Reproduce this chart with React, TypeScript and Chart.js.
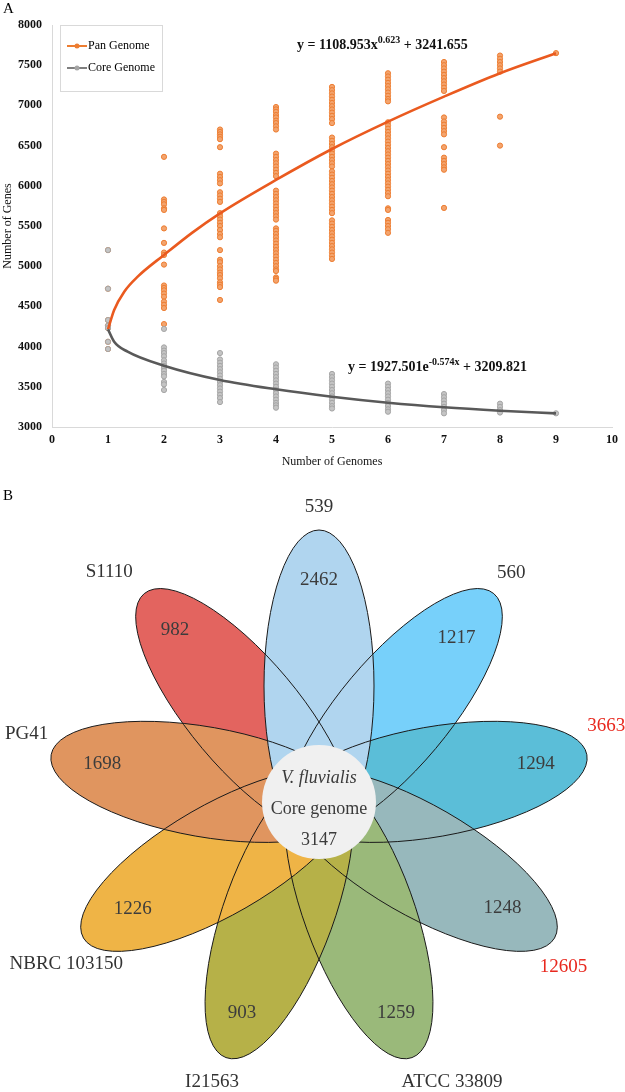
import React, { useEffect, useRef } from 'react';
import { Chart, registerables } from 'chart.js';

Chart.register(...registerables);

const SERIF = "'Liberation Serif', 'Times New Roman', serif";

// ---------- Panel A data ----------
const GENOME_COUNTS = [1, 2, 3, 4, 5, 6, 7, 8, 9];
const X_TICKS = [0, 1, 2, 3, 4, 5, 6, 7, 8, 9, 10];
const Y_TICKS = [3000, 3500, 4000, 4500, 5000, 5500, 6000, 6500, 7000, 7500, 8000];

const PAN_GENES: number[][] = [
  [5200, 4720, 4330, 4260, 4230, 4060, 3970],
  [6360, 5830, 5800, 5770, 5720, 5700, 5470, 5290, 5170, 5140, 5020, 4760, 4730, 4700, 4660, 4620, 4560, 4520, 4480, 4280],
  [6700, 6670, 6640, 6610, 6580, 6480, 6150, 6110, 6070, 6030, 5920, 5880, 5840, 5800, 5660, 5620, 5580, 5540, 5500, 5450, 5400, 5360, 5200, 5080, 5050, 5000, 4960, 4920, 4890, 4850, 4800, 4770, 4740, 4580],
  [6980, 6950, 6920, 6880, 6850, 6810, 6780, 6740, 6700, 6400, 6360, 6320, 6280, 6240, 6200, 6160, 6120, 5940, 5900, 5860, 5820, 5780, 5740, 5700, 5660, 5620, 5580, 5470, 5440, 5400, 5360, 5320, 5280, 5240, 5200, 5160, 5120, 5080, 5040, 5000, 4960, 4940, 4860, 4840, 4820],
  [7230, 7190, 7150, 7110, 7070, 7030, 6990, 6950, 6910, 6870, 6830, 6780, 6600, 6560, 6520, 6480, 6440, 6400, 6360, 6320, 6280, 6240, 6180, 6140, 6100, 6060, 6020, 5980, 5940, 5900, 5860, 5820, 5780, 5740, 5700, 5660, 5570, 5530, 5490, 5450, 5410, 5370, 5330, 5290, 5250, 5210, 5170, 5130, 5090],
  [7400, 7360, 7320, 7280, 7240, 7200, 7160, 7120, 7080, 7050, 6790, 6750, 6710, 6670, 6630, 6590, 6550, 6510, 6470, 6430, 6390, 6350, 6310, 6270, 6230, 6190, 6150, 6110, 6070, 6030, 5990, 5950, 5910, 5870, 5720, 5700, 5575, 5540, 5500, 5460, 5415],
  [7540, 7500, 7460, 7420, 7380, 7340, 7300, 7260, 7220, 7180, 6850, 6800, 6760, 6720, 6680, 6640, 6480, 6350, 6310, 6270, 6230, 6200, 5725],
  [7620, 7580, 7540, 7500, 7460, 7420, 6860, 6500],
  [7650],
];

const CORE_GENES: number[][] = [
  [5200, 4720, 4330, 4260, 4230, 4060, 3970],
  [4220, 3990, 3950, 3920, 3880, 3830, 3790, 3760, 3730, 3700, 3660, 3630, 3560, 3530, 3460],
  [3920, 3840, 3800, 3760, 3720, 3680, 3640, 3600, 3560, 3520, 3480, 3440, 3400, 3360, 3310],
  [3780, 3740, 3700, 3660, 3620, 3580, 3540, 3500, 3460, 3420, 3380, 3340, 3300, 3270, 3240],
  [3660, 3620, 3580, 3540, 3500, 3460, 3420, 3380, 3340, 3300, 3260, 3230],
  [3540, 3500, 3460, 3420, 3380, 3340, 3300, 3260, 3220, 3190],
  [3410, 3370, 3330, 3290, 3250, 3210, 3170],
  [3290, 3250, 3210, 3180],
  [3170],
];

const PAN_FIT_X = [1, 1.11, 1.29, 1.53, 2, 2.5, 3, 4, 5, 6, 7, 8, 9];
const PAN_FIT_Y = [4215, 4455, 4683, 4870, 5140, 5415, 5658, 6073, 6458, 6798, 7109, 7400, 7649];
const CORE_FIT_X = [1, 1.11, 1.35, 2, 3, 4, 5, 6, 7, 8, 9];
const CORE_FIT_Y = [4215, 4061, 3937, 3763, 3585, 3469, 3377, 3302, 3245, 3203, 3170];

const SERIES_NAMES = ['Pan Genome', 'Core Genome'];
const PAN_EQ = ['y = 1108.953x', '0.623', ' + 3241.655'];
const CORE_EQ = ['y = 1927.501e', '-0.574x', ' + 3209.821'];

// ---------- Panel B data ----------
const PETAL_NAMES = ['539', '560', '3663', '12605', 'ATCC 33809', 'I21563', 'NBRC 103150', 'PG41', 'S1110'];
const PETAL_UNIQUE = [2462, 1217, 1294, 1248, 1259, 903, 1226, 1698, 982];
const PETAL_ANGLES = [90, 50, 10, -30, -70, -110, -150, 170, 130];
const PETAL_COLORS = ['#B0D5EF', '#77D0FA', '#5BBED8', '#97B8BC', '#9AB97A', '#B6B148', '#EFB446', '#E0955F', '#E3645F'];
const LABEL_COLORS = ['#333333', '#333333', '#E8281E', '#E8281E', '#333333', '#333333', '#333333', '#333333', '#333333'];
const CORE_TITLE = 'V. fluvialis';
const CORE_SUB = 'Core genome';
const CORE_COUNT = 3147;

// layout of panel B (pixel-like units of the hidden scales)
const FILL_ORDER = [1, 2, 3, 4, 5, 6, 8, 7, 0];
const FLOWER_CENTER = [319, 802];
const PETAL_OFFSET = 116;
const PETAL_A = 156;
const PETAL_B = 55;
const CORE_R = 57;
const NUM_RADIUS = [222, 214, 220, 212, 225, 225, 215, 220, 224];
const LABEL_POS = [[90, 295], [50, 299], [14.8, 297], [-34, 295], [-64.6, 310], [-110.9, 300], [-147.4, 300], [167, 300], [132.4, 311]];

const PAN_DOT = '#ED7D31';
const PAN_DOT_FILL = '#F3A46E';
const PAN_LINE = '#EA5A1F';
const CORE_DOT = '#A5A5A5';
const CORE_DOT_FILL = '#C4C4C4';
const CORE_LINE = '#595959';

function drawEquation(ctx: CanvasRenderingContext2D, x: number, y: number, parts: string[]) {
  ctx.textAlign = 'left';
  ctx.textBaseline = 'middle';
  ctx.fillStyle = '#111';
  ctx.font = `bold 14px ${SERIF}`;
  ctx.fillText(parts[0], x, y);
  let w = ctx.measureText(parts[0]).width;
  ctx.font = `bold 10px ${SERIF}`;
  ctx.fillText(parts[1], x + w, y - 5);
  w += ctx.measureText(parts[1]).width;
  ctx.font = `bold 14px ${SERIF}`;
  ctx.fillText(parts[2], x + w, y);
}

const overlayA = {
  id: 'overlayA',
  afterDraw(chart: any) {
    const { ctx } = chart;
    const xs = chart.scales.x;
    const ys = chart.scales.y;
    ctx.save();
    ctx.fillStyle = '#000';
    ctx.font = `15px ${SERIF}`;
    ctx.textAlign = 'left';
    ctx.textBaseline = 'middle';
    ctx.fillText('A', 3, 9);

    // legend box
    ctx.fillStyle = '#fff';
    ctx.strokeStyle = '#D9D9D9';
    ctx.lineWidth = 1;
    ctx.fillRect(60.5, 25.5, 102, 66);
    ctx.strokeRect(60.5, 25.5, 102, 66);
    const lc = [[PAN_LINE, PAN_DOT], [CORE_LINE, CORE_DOT]];
    SERIES_NAMES.forEach((name, i) => {
      const yy = 46 + i * 22;
      ctx.strokeStyle = i === 0 ? PAN_DOT : '#7F7F7F';
      ctx.lineWidth = 2;
      ctx.beginPath();
      ctx.moveTo(67, yy);
      ctx.lineTo(87, yy);
      ctx.stroke();
      ctx.fillStyle = lc[i][1];
      ctx.beginPath();
      ctx.arc(77, yy, 2.5, 0, Math.PI * 2);
      ctx.fill();
      ctx.fillStyle = '#000';
      ctx.font = `12px ${SERIF}`;
      ctx.fillText(name, 88, yy);
    });

    drawEquation(ctx, xs.getPixelForValue(4.375), ys.getPixelForValue(7752), PAN_EQ);
    drawEquation(ctx, xs.getPixelForValue(5.286), ys.getPixelForValue(3746), CORE_EQ);
    ctx.restore();
  },
};

function PanelA() {
  const ref = useRef<HTMLCanvasElement>(null);
  useEffect(() => {
    const canvas = ref.current!;
    const panPts = PAN_GENES.flatMap((ys, i) => ys.map((y) => ({ x: GENOME_COUNTS[i], y })));
    const corePts = CORE_GENES.flatMap((ys, i) => ys.map((y) => ({ x: GENOME_COUNTS[i], y })));
    const chart = new Chart(canvas, {
      type: 'scatter',
      data: {
        datasets: [
          {
            label: 'Pan fit',
            data: PAN_FIT_X.map((x, i) => ({ x, y: PAN_FIT_Y[i] })),
            showLine: true,
            borderColor: PAN_LINE,
            borderWidth: 2.6,
            pointRadius: 0,
            cubicInterpolationMode: 'monotone',
            order: 1,
          } as any,
          {
            label: 'Core fit',
            data: CORE_FIT_X.map((x, i) => ({ x, y: CORE_FIT_Y[i] })),
            showLine: true,
            borderColor: CORE_LINE,
            borderWidth: 2.6,
            pointRadius: 0,
            cubicInterpolationMode: 'monotone',
            order: 0,
          } as any,
          {
            label: SERIES_NAMES[1],
            data: corePts,
            pointRadius: 2.6,
            borderWidth: 1,
            borderColor: CORE_DOT,
            backgroundColor: CORE_DOT_FILL,
            order: 2,
          },
          {
            label: SERIES_NAMES[0],
            data: panPts,
            pointRadius: 2.6,
            borderWidth: 1,
            borderColor: PAN_DOT,
            backgroundColor: PAN_DOT_FILL,
            order: 3,
          },
        ],
      },
      options: {
        responsive: false,
        animation: false,
        devicePixelRatio: 1,
        layout: { padding: { top: 25, right: 13, left: 0, bottom: 0 } },
        plugins: { legend: { display: false }, tooltip: { enabled: false } },
        scales: {
          x: {
            type: 'linear',
            min: 0,
            max: 10,
            afterBuildTicks: (s: any) => {
              s.ticks = X_TICKS.map((v) => ({ value: v }));
            },
            afterFit: (s: any) => {
              s.height = 43;
            },
            grid: { display: false, drawTicks: false },
            border: { display: true, color: '#D9D9D9', width: 1 },
            ticks: {
              padding: 6,
              color: '#111',
              font: { family: SERIF, size: 12, weight: 'bold' },
              maxRotation: 0,
              callback: (v: any) => String(v),
            },
            title: {
              display: true,
              text: 'Number of Genomes',
              color: '#111',
              font: { family: SERIF, size: 12 },
              padding: { top: 0, bottom: 1 },
            },
          },
          y: {
            type: 'linear',
            min: 3000,
            max: 8000,
            afterBuildTicks: (s: any) => {
              s.ticks = Y_TICKS.map((v) => ({ value: v }));
            },
            afterFit: (s: any) => {
              s.width = 52;
            },
            grid: { display: false, drawTicks: false },
            border: { display: true, color: '#D9D9D9', width: 1 },
            ticks: {
              padding: 10,
              color: '#111',
              font: { family: SERIF, size: 12, weight: 'bold' },
              callback: (v: any) => String(v),
            },
            title: {
              display: true,
              text: 'Number of Genes',
              color: '#111',
              font: { family: SERIF, size: 12 },
              padding: { top: 1, bottom: 0 },
            },
          },
        },
      } as any,
      plugins: [overlayA],
    });
    return () => chart.destroy();
  }, []);
  return <canvas ref={ref} width={625} height={470} style={{ display: 'block', width: 625, height: 470 }} />;
}

const flowerPlugin = {
  id: 'flower',
  afterDraw(chart: any) {
    const { ctx } = chart;
    const xs = chart.scales.x;
    const ys = chart.scales.y;
    const px = (v: number) => xs.getPixelForValue(v);
    const py = (v: number) => ys.getPixelForValue(v);
    const ux = px(1) - px(0);
    const [fcx, fcy] = FLOWER_CENTER;
    const rad = (d: number) => (d * Math.PI) / 180;

    ctx.save();
    ctx.fillStyle = '#000';
    ctx.font = `15px ${SERIF}`;
    ctx.textAlign = 'left';
    ctx.textBaseline = 'middle';
    ctx.fillText('B', px(3), py(496));

    const petalPath = (i: number) => {
      const t = rad(PETAL_ANGLES[i]);
      const cx = fcx + PETAL_OFFSET * Math.cos(t);
      const cy = fcy - PETAL_OFFSET * Math.sin(t);
      ctx.beginPath();
      ctx.ellipse(px(cx), py(cy), PETAL_A * ux, PETAL_B * ux, -t, 0, Math.PI * 2);
    };

    FILL_ORDER.forEach((i) => {
      petalPath(i);
      ctx.fillStyle = PETAL_COLORS[i];
      ctx.fill();
    });
    ctx.strokeStyle = '#1a1a1a';
    ctx.lineWidth = 1;
    FILL_ORDER.forEach((i) => {
      petalPath(i);
      ctx.stroke();
    });

    // core
    ctx.beginPath();
    ctx.arc(px(fcx), py(fcy), CORE_R * ux, 0, Math.PI * 2);
    ctx.fillStyle = '#F0F0F0';
    ctx.fill();

    ctx.textAlign = 'center';
    ctx.textBaseline = 'middle';
    ctx.fillStyle = '#3A3A3A';
    ctx.font = `italic 18px ${SERIF}`;
    ctx.fillText(CORE_TITLE, px(fcx), py(fcy - 24));
    ctx.font = `18px ${SERIF}`;
    ctx.fillText(CORE_SUB, px(fcx), py(fcy + 7));
    ctx.fillText(String(CORE_COUNT), px(fcx), py(fcy + 38));

    // unique counts
    ctx.font = `19px ${SERIF}`;
    PETAL_UNIQUE.forEach((n, i) => {
      const t = rad(PETAL_ANGLES[i]);
      const r = NUM_RADIUS[i];
      ctx.fillStyle = '#3C3C3C';
      ctx.fillText(String(n), px(fcx + r * Math.cos(t)), py(fcy - r * Math.sin(t)));
    });

    // names
    PETAL_NAMES.forEach((name, i) => {
      const [a, r] = LABEL_POS[i];
      const t = rad(a);
      ctx.fillStyle = LABEL_COLORS[i];
      ctx.fillText(name, px(fcx + r * Math.cos(t)), py(fcy - r * Math.sin(t)));
    });
    ctx.restore();
  },
};

function PanelB() {
  const ref = useRef<HTMLCanvasElement>(null);
  useEffect(() => {
    const canvas = ref.current!;
    const chart = new Chart(canvas, {
      type: 'scatter',
      data: { datasets: [{ label: 'petals', data: [], pointRadius: 0 }] },
      options: {
        responsive: false,
        animation: false,
        devicePixelRatio: 1,
        layout: { padding: 0 },
        plugins: { legend: { display: false }, tooltip: { enabled: false } },
        scales: {
          x: { type: 'linear', min: 0, max: 625, display: false },
          y: { type: 'linear', min: 470, max: 1092, reverse: true, display: false },
        },
      } as any,
      plugins: [flowerPlugin],
    });
    return () => chart.destroy();
  }, []);
  return <canvas ref={ref} width={625} height={622} style={{ display: 'block', width: 625, height: 622 }} />;
}

export default function App() {
  return (
    <div style={{ position: 'absolute', left: 0, top: 0, width: 625, height: 1092, background: '#fff' }}>
      <PanelA />
      <PanelB />
    </div>
  );
}
